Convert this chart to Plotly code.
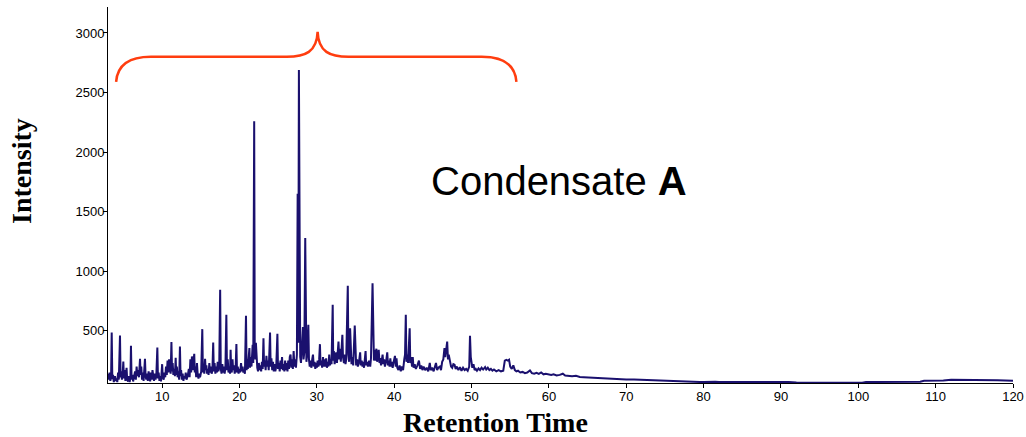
import plotly.graph_objects as go

# ---- Data (retention time, intensity) ----
seg_early = [
    (3.0, 140), (3.1, 90), (3.2, 150), (3.3, 80), (3.4, 110), (3.48, 486), (3.56, 95), (3.65, 130),
    (3.75, 70), (3.9, 120), (4.0, 80), (4.1, 100), (4.2, 70), (4.3, 150), (4.4, 90), (4.55, 461),
    (4.63, 110), (4.72, 160), (4.8, 90), (4.9, 140), (4.98, 242), (5.06, 100), (5.15, 170), (5.25, 80),
    (5.32, 130), (5.4, 190), (5.48, 90), (5.6, 75), (5.7, 120), (5.8, 70), (5.9, 110), (5.97, 374),
    (6.05, 90), (6.15, 130), (6.25, 75), (6.35, 110), (6.5, 160), (6.6, 90), (6.7, 200), (6.8, 120),
    (6.9, 170), (7.0, 110), (7.07, 240), (7.14, 265), (7.22, 130), (7.3, 200), (7.4, 90), (7.5, 150),
    (7.6, 80), (7.7, 180), (7.78, 265), (7.86, 120), (7.95, 90), (8.05, 140), (8.15, 80), (8.25, 160),
    (8.35, 100), (8.45, 75), (8.55, 150), (8.65, 90), (8.75, 170), (8.85, 110), (8.95, 80), (9.05, 140),
    (9.15, 90), (9.25, 130), (9.38, 360), (9.46, 100), (9.55, 150), (9.65, 80), (9.75, 120), (9.85, 75),
    (10.0, 220), (10.08, 110), (10.2, 90), (10.3, 150), (10.4, 110), (10.5, 200), (10.6, 130), (10.7, 250),
    (10.8, 150), (10.9, 260), (11.0, 180), (11.1, 140), (11.2, 405), (11.28, 160), (11.36, 230), (11.45, 130),
    (11.55, 180), (11.65, 120), (11.75, 273), (11.82, 130), (11.9, 200), (12.0, 110), (12.1, 160), (12.2, 90),
    (12.3, 368), (12.38, 120), (12.45, 170), (12.55, 90), (12.65, 140), (12.75, 80), (12.85, 120), (12.95, 100),
    (13.05, 150), (13.15, 90), (13.3, 120), (13.45, 180), (13.55, 110), (13.65, 260), (13.75, 150), (13.85, 285),
    (13.95, 170), (14.05, 240), (14.15, 307), (14.22, 150), (14.3, 200), (14.4, 110), (14.5, 230), (14.6, 130),
    (14.7, 100), (14.8, 140), (14.9, 110), (15.05, 160), (15.19, 514), (15.27, 150),
]

seg_middle = [
    (15.35, 200), (15.45, 140), (15.55, 265), (15.63, 170), (15.72, 210), (15.8, 140), (15.9, 180), (16.0, 130),
    (16.1, 230), (16.2, 150), (16.3, 200), (16.4, 140), (16.5, 170), (16.6, 402), (16.68, 160), (16.78, 230),
    (16.88, 140), (16.98, 200), (17.08, 150), (17.18, 240), (17.28, 160), (17.38, 200), (17.5, 844), (17.58, 180),
    (17.68, 140), (17.78, 220), (17.88, 150), (17.98, 200), (18.08, 140), (18.18, 190), (18.3, 634), (18.38, 170),
    (18.48, 260), (18.58, 150), (18.68, 200), (18.78, 140), (18.85, 340), (18.92, 180), (19.0, 150), (19.1, 260),
    (19.18, 170), (19.28, 210), (19.38, 140), (19.5, 190), (19.6, 390), (19.68, 150), (19.78, 200), (19.88, 140),
    (19.98, 180), (20.08, 150), (20.2, 230), (20.3, 160), (20.4, 200), (20.5, 150), (20.6, 170), (20.7, 140),
    (20.84, 626), (20.92, 170), (21.0, 260), (21.08, 180), (21.18, 240), (21.28, 355), (21.36, 190), (21.45, 280),
    (21.55, 200), (21.62, 320), (21.7, 383), (21.78, 230), (21.9, 2260), (21.97, 400), (22.05, 260), (22.12, 400),
    (22.2, 230), (22.3, 190), (22.4, 160), (22.5, 230), (22.6, 170), (22.7, 210), (22.8, 160), (22.9, 240),
    (23.0, 180), (23.1, 438), (23.18, 200), (23.28, 250), (23.38, 170), (23.48, 290), (23.58, 200), (23.68, 250),
    (23.78, 170), (23.95, 486), (24.03, 200), (24.13, 270), (24.23, 170), (24.33, 240), (24.43, 160), (24.53, 220),
    (24.63, 160), (24.75, 200), (24.9, 475), (24.98, 180), (25.08, 230), (25.2, 160), (25.3, 250), (25.4, 180),
    (25.5, 280), (25.6, 170), (25.7, 220), (25.8, 160), (25.9, 250), (26.0, 170), (26.1, 230), (26.2, 160),
    (26.3, 250), (26.4, 180), (26.5, 280), (26.6, 300), (26.7, 190), (26.8, 260), (26.9, 180), (27.0, 330),
    (27.1, 200), (27.2, 260), (27.3, 190), (27.42, 300), (27.52, 1650), (27.6, 400), (27.68, 2690), (27.76, 500),
    (27.85, 280), (27.95, 230), (28.05, 330), (28.2, 531), (28.28, 260), (28.38, 320), (28.5, 1280), (28.57, 300),
    (28.65, 240), (28.75, 300), (28.9, 550), (28.98, 260), (29.08, 200), (29.18, 250), (29.3, 190), (29.4, 260),
    (29.5, 300), (29.6, 200), (29.7, 240), (29.8, 180), (29.9, 230), (30.0, 190), (30.1, 250), (30.2, 200),
    (30.3, 260), (30.4, 388), (30.48, 210), (30.58, 250), (30.68, 190), (30.8, 280), (30.9, 200), (31.0, 260),
]

seg_late = [
    (31.1, 200), (31.2, 270), (31.3, 190), (31.4, 240), (31.5, 200), (31.6, 300), (31.7, 210), (31.8, 260),
    (31.9, 220), (32.05, 718), (32.12, 250), (32.2, 330), (32.3, 220), (32.4, 300), (32.5, 320), (32.6, 230),
    (32.7, 380), (32.8, 410), (32.9, 260), (33.0, 350), (33.1, 240), (33.2, 400), (33.3, 466), (33.38, 280),
    (33.5, 230), (33.6, 300), (33.7, 220), (33.8, 260), (34.0, 878), (34.08, 300), (34.18, 240), (34.3, 522),
    (34.38, 260), (34.48, 220), (34.6, 280), (34.7, 210), (34.9, 544), (34.98, 240), (35.08, 210), (35.2, 260),
    (35.3, 200), (35.45, 240), (35.6, 320), (35.68, 210), (35.8, 250), (35.9, 200), (36.0, 240), (36.1, 190),
    (36.3, 330), (36.38, 210), (36.5, 240), (36.6, 200), (36.75, 250), (36.9, 200), (37.0, 270), (37.2, 900),
    (37.28, 300), (37.38, 250), (37.5, 340), (37.6, 250), (37.7, 350), (37.8, 240), (37.9, 300), (38.0, 340),
    (38.1, 230), (38.2, 270), (38.3, 210), (38.5, 300), (38.6, 220), (38.7, 260), (38.8, 200), (38.95, 240),
    (39.1, 320), (39.2, 210), (39.3, 250), (39.4, 200), (39.5, 270), (39.6, 200), (39.7, 240), (39.8, 190),
    (39.9, 230), (40.1, 290), (40.2, 200), (40.3, 270), (40.4, 190), (40.55, 170), (40.7, 210), (40.85, 160),
    (41.0, 200), (41.15, 170), (41.3, 260), (41.4, 300), (41.5, 634), (41.58, 240), (41.68, 300), (41.8, 230),
    (42.0, 522), (42.08, 230), (42.2, 280), (42.3, 200), (42.4, 280), (42.5, 190), (42.65, 220), (42.8, 180),
    (43.0, 210), (43.2, 250), (43.35, 180), (43.5, 210), (43.65, 170), (43.8, 200), (44.0, 170), (44.2, 190),
    (44.4, 160), (44.6, 230), (44.72, 170), (44.9, 190), (45.1, 160), (45.25, 200), (45.4, 230), (45.55, 170),
    (45.7, 190), (45.9, 200), (46.05, 170), (46.2, 240), (46.35, 260), (46.5, 355), (46.6, 280), (46.7, 330),
    (46.85, 410), (46.95, 260), (47.05, 300), (47.2, 250), (47.35, 200), (47.5, 190), (47.65, 220), (47.8, 215),
    (47.95, 180), (48.1, 200), (48.3, 170), (48.5, 195), (48.7, 165), (48.9, 190), (49.1, 170), (49.3, 180),
    (49.5, 165), (49.7, 200), (49.8, 458), (49.9, 280), (50.0, 220), (50.1, 190), (50.25, 220), (50.4, 170),
    (50.55, 180), (50.7, 165), (50.9, 185), (51.1, 170), (51.3, 190), (51.5, 175), (51.75, 195), (51.9, 175),
    (52.1, 190), (52.3, 170), (52.5, 180), (52.7, 165), (52.9, 175), (53.2, 160), (53.5, 170), (53.8, 160),
    (54.1, 165), (54.3, 250), (54.5, 257), (54.7, 250), (54.85, 257), (55.0, 200), (55.2, 180), (55.4, 210),
    (55.6, 170), (55.8, 160), (56.0, 165), (56.3, 150), (56.6, 155), (56.9, 145), (57.2, 150), (57.55, 168),
    (57.8, 145), (58.1, 140), (58.4, 148), (58.7, 138), (59.0, 150), (59.3, 135), (59.6, 140), (60.0, 135),
    (60.3, 130), (60.6, 135), (61.0, 125), (61.4, 130), (61.8, 140), (62.1, 125),
]

seg_tail = [
    (62.5, 120), (63.0, 118), (63.5, 122), (64.0, 112), (64.5, 110), (65.0, 108), (65.5, 110), (66.0, 104),
    (66.6, 104), (67.2, 100), (67.8, 98), (68.5, 95), (69.3, 94), (70.0, 92), (71.0, 92), (72.0, 90),
    (73.0, 88), (74.0, 86), (75.0, 85), (76.0, 84), (77.0, 80), (78.0, 76), (79.0, 72), (79.5, 71),
    (80.0, 70), (81.0, 75), (81.5, 72), (82.0, 70), (84.0, 70), (86.0, 70), (88.0, 72), (89.0, 74),
    (90.0, 72), (91.0, 70), (92.0, 66), (94.0, 64), (96.0, 64), (98.0, 64), (100.0, 64), (100.5, 64),
    (101.0, 70), (102.0, 71), (104.0, 71), (106.0, 71), (108.0, 72), (108.5, 80), (110.0, 81), (111.0, 83),
    (112.0, 90), (113.0, 90), (114.0, 87), (115.0, 85), (117.0, 86), (118.0, 85), (120.0, 80),
]

x_ticks = [10, 20, 30, 40, 50, 60, 70, 80, 90, 100, 110, 120]
y_ticks = [500, 1000, 1500, 2000, 2500, 3000]

# brace annotation anchors (data units): left end, peak, right end, levels
brace_x = [4.05, 30.1, 55.8]
brace_y = [2590, 2800, 3010]

points = seg_early + seg_middle + seg_late + seg_tail
rt = [p[0] for p in points]
inten = [p[1] for p in points]

fig = go.Figure()
fig.add_trace(go.Scatter(
    x=rt, y=inten, mode="lines",
    line=dict(color="#1a106e", width=2),
    hoverinfo="skip", showlegend=False,
))

xl, xm, xr = brace_x
yb, yh, yp = brace_y
brace_path = (
    f"M {xl},{yb} C {xl + 0.15},{yh - 80} {xl + 1.5},{yh} {xl + 4.5},{yh} "
    f"L {xm - 4.0},{yh} C {xm - 1.6},{yh} {xm - 0.1},{yh + 40} {xm},{yp} "
    f"C {xm + 0.1},{yh + 40} {xm + 1.6},{yh} {xm + 4.0},{yh} "
    f"L {xr - 4.5},{yh} C {xr - 1.5},{yh} {xr - 0.15},{yh - 80} {xr},{yb}"
)
fig.add_shape(type="path", xref="x", yref="y", path=brace_path,
              line=dict(color="#ff3d0f", width=2.5))

fig.add_annotation(
    text="Condensate <b>A</b>", xref="paper", yref="paper", x=0.498, y=0.537,
    xanchor="center", yanchor="middle", showarrow=False,
    font=dict(family="Liberation Sans, Arial, sans-serif", size=40, color="black"),
)
fig.add_annotation(
    text="<b>Retention Time</b>", xref="paper", yref="paper", x=0.4287, y=-0.104,
    xanchor="center", yanchor="middle", showarrow=False,
    font=dict(family="Liberation Serif, Times New Roman, serif", size=28, color="black"),
)
fig.add_annotation(
    text="<b>Intensity</b>", xref="paper", yref="paper", x=-0.095, y=0.564,
    xanchor="center", yanchor="middle", showarrow=False, textangle=-90,
    font=dict(family="Liberation Serif, Times New Roman, serif", size=28, color="black"),
)

axis_font = dict(family="Liberation Sans, Arial, sans-serif", size=13, color="black")
fig.update_layout(
    template="none",
    width=1026, height=437,
    margin=dict(l=108, r=13, t=7, b=54, autoexpand=False),
    paper_bgcolor="white", plot_bgcolor="white",
    xaxis=dict(range=[3.0, 120], tickvals=x_ticks, ticks="outside", ticklen=4,
               tickcolor="black", showline=True, linecolor="black", linewidth=1,
               showgrid=False, zeroline=False, tickfont=axis_font, automargin=False,
               ticklabelstandoff=-3),
    yaxis=dict(range=[62, 3218], tickvals=y_ticks, ticks="outside", ticklen=4,
               tickcolor="black", showline=True, linecolor="black", linewidth=1,
               showgrid=False, zeroline=False, tickfont=axis_font, automargin=False,
               ticklabelstandoff=-4),
)

fig.write_html(
    "out.html",
    config={"displayModeBar": False},
    post_script="document.body.style.margin='0';document.body.style.overflow='hidden';",
)
